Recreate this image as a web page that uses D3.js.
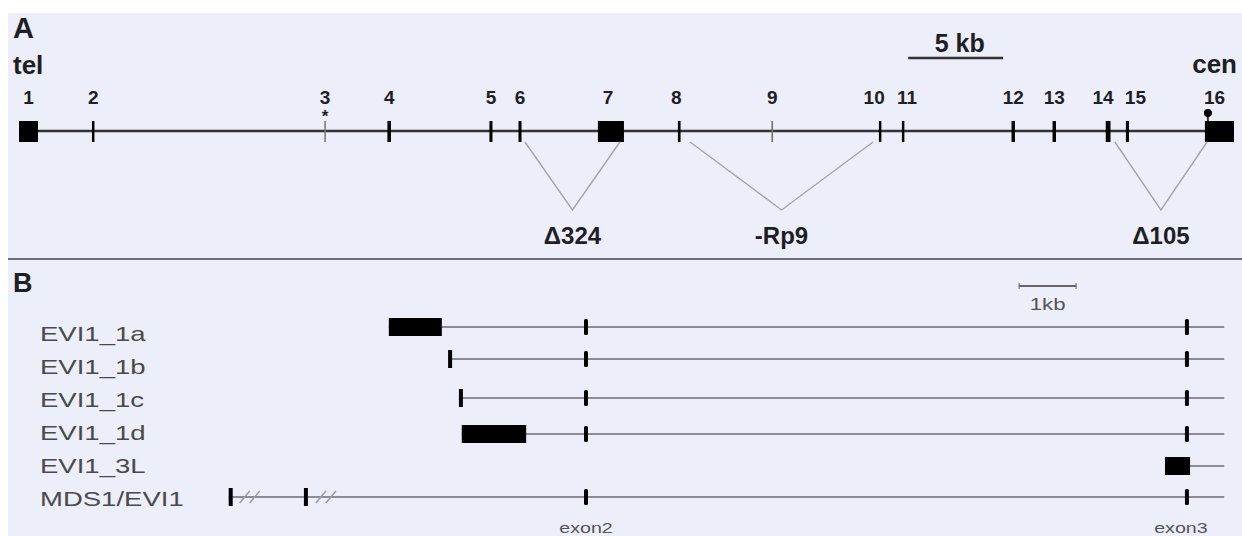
<!DOCTYPE html>
<html><head><meta charset="utf-8">
<script src="https://cdn.jsdelivr.net/npm/d3@7"></script>
<style>html,body{margin:0;padding:0;background:#fff;}svg{display:block;}</style>
</head><body>
<svg id="c" width="1242" height="536"></svg>
<script>
// ---------- Panel A data (kb from telomeric end of exon 1) ----------
const exonNames = ["1","2","3","4","5","6","7","8","9","10","11","12","13","14","15","16"];
const exonStart = [0, 3.84, 16.07, 19.39, 24.76, 26.29, 30.47, 34.68, 39.6, 45.26, 46.47, 52.24, 54.4, 57.2, 58.26, 62.42];
const exonEnd   = [1.0, 3.97, 16.15, 19.58, 24.92, 26.45, 31.84, 34.82, 39.69, 45.39, 46.6, 52.42, 54.58, 57.45, 58.42, 63.95];
const locusEnd = 63.95;
const deletionNames = ["\u0394324", "-Rp9", "\u0394105"];
const deletionStart = [26.63, 35.32, 57.68];
const deletionEnd   = [31.63, 44.95, 62.53];
const scaleBarA = 5; // kb

// ---------- Panel B data (kb relative to exon 2) ----------
const transcripts = ["EVI1_1a","EVI1_1b","EVI1_1c","EVI1_1d","EVI1_3L","MDS1/EVI1"];
const firstExonStart = [-3.46, -2.42, -2.23, -2.18, 10.16, -6.27];
const firstExonEnd   = [-2.53, -2.35, -2.17, -1.05, 10.60, -6.20];
const hasExon2 = [true, true, true, true, false, true];
const hasExon3 = [true, true, true, true, false, true];
const mdsExon2 = [-4.95, -4.88];
const exon2 = [-0.035, 0.035];
const exon3 = [10.51, 10.58];
const transcriptEnd = 11.2;
const scaleBarB = 1; // kb
const exonLabels = ["exon2", "exon3"];

const svg = d3.select("#c");
const font = "'Liberation Sans', Arial, sans-serif";
const dark = "#1e1e24";

// background
svg.append("rect").attr("x", 8).attr("y", 13).attr("width", 1234).attr("height", 523).attr("fill", "#eceefa");

// ================= Panel A =================
const xA = d3.scaleLinear().domain([0, locusEnd]).range([19, 1234]);
const yA = 131;
const gA = svg.append("g");
gA.append("text").attr("x", 13).attr("y", 38).text("A")
  .attr("font-family", font).attr("font-weight", "bold").attr("font-size", 29).attr("fill", dark);
gA.append("text").attr("x", 13).attr("y", 74).text("tel")
  .attr("font-family", font).attr("font-weight", "bold").attr("font-size", 26).attr("fill", dark);
gA.append("text").attr("x", 1237).attr("y", 73).attr("text-anchor", "end").text("cen")
  .attr("font-family", font).attr("font-weight", "bold").attr("font-size", 26).attr("fill", dark);

// scale bar
const sb0 = 46.8;
gA.append("line").attr("x1", xA(sb0)).attr("x2", xA(sb0 + scaleBarA)).attr("y1", 58).attr("y2", 58)
  .attr("stroke", "#333").attr("stroke-width", 2.5);
gA.append("text").attr("x", (xA(sb0) + xA(sb0 + scaleBarA)) / 2 + 4).attr("y", 52).attr("text-anchor", "middle")
  .text(scaleBarA + " kb").attr("font-family", font).attr("font-weight", "bold").attr("font-size", 25).attr("fill", dark);

// main line
gA.append("line").attr("x1", xA(0)).attr("x2", xA(locusEnd)).attr("y1", yA).attr("y2", yA)
  .attr("stroke", "#333").attr("stroke-width", 2.5);

const exA = exonNames.map((n, i) => ({ n, s: exonStart[i], e: exonEnd[i] }));
const light = new Set(["3", "9"]);
// small label nudges for legibility (as in the original figure)
const nudge = { "7": -3, "8": -3, "10": -6, "11": 4, "14": -5, "15": 8, "16": -5 };
gA.selectAll("rect.ex").data(exA).enter().append("rect")
  .attr("x", d => xA(d.s)).attr("width", d => Math.max(1.5, xA(d.e) - xA(d.s)))
  .attr("y", 121).attr("height", 21)
  .attr("fill", d => light.has(d.n) ? "#777" : "#000");
gA.selectAll("text.num").data(exA).enter().append("text")
  .attr("x", d => xA((d.s + d.e) / 2) + (nudge[d.n] || 0)).attr("y", 104).attr("text-anchor", "middle")
  .text(d => d.n).attr("font-family", font).attr("font-weight", "bold").attr("font-size", 19).attr("fill", dark);

// asterisk on exon 3, dot on exon 16
const e3 = exA[2], e16 = exA[15];
gA.append("text").attr("x", xA((e3.s + e3.e) / 2)).attr("y", 122).attr("text-anchor", "middle").text("*")
  .attr("font-family", font).attr("font-weight", "bold").attr("font-size", 17).attr("fill", dark);
gA.append("line").attr("x1", xA(e16.s) + 3).attr("x2", xA(e16.s) + 3).attr("y1", 113).attr("y2", 121)
  .attr("stroke", "#000").attr("stroke-width", 1.5);
gA.append("circle").attr("cx", xA(e16.s) + 3).attr("cy", 113).attr("r", 4).attr("fill", "#000");

// deletions
deletionNames.forEach((name, i) => {
  const x1 = xA(deletionStart[i]), x2 = xA(deletionEnd[i]);
  const xm = (x1 + x2) / 2;
  gA.append("polyline").attr("points", `${x1},142 ${xm},210 ${x2},142`)
    .attr("fill", "none").attr("stroke", "#a4a4ae").attr("stroke-width", 1.4);
  gA.append("text").attr("x", xm).attr("y", 244).attr("text-anchor", "middle").text(name)
    .attr("font-family", font).attr("font-weight", "bold").attr("font-size", 24).attr("fill", dark);
});

// separator
svg.append("line").attr("x1", 8).attr("x2", 1242).attr("y1", 259).attr("y2", 259)
  .attr("stroke", "#6e6e78").attr("stroke-width", 2);

// ================= Panel B =================
const xB = d3.scaleLinear().domain([0, 10.52]).range([586, 1185.5]);
const yB = d3.scaleOrdinal().domain(transcripts).range([327, 359, 398, 434, 466, 497]);
const yLab = d3.scalePoint().domain(transcripts).range([341, 506]);
const stretch = 1.31;
const gB = svg.append("g");
gB.append("text").attr("x", 13).attr("y", 292).text("B")
  .attr("font-family", font).attr("font-weight", "bold").attr("font-size", 27).attr("fill", dark);

function stretchedText(x, y, txt, size, anchor, fill) {
  return gB.append("text").attr("transform", `translate(${x},${y}) scale(${stretch},1)`)
    .attr("text-anchor", anchor).text(txt)
    .attr("font-family", font).attr("font-size", size).attr("fill", fill);
}

// scale bar
const sbB = 7.6;
gB.append("line").attr("x1", xB(sbB)).attr("x2", xB(sbB + scaleBarB)).attr("y1", 286).attr("y2", 286)
  .attr("stroke", "#666").attr("stroke-width", 2);
gB.append("line").attr("x1", xB(sbB)).attr("x2", xB(sbB)).attr("y1", 283).attr("y2", 289).attr("stroke", "#666").attr("stroke-width", 1);
gB.append("line").attr("x1", xB(sbB + scaleBarB)).attr("x2", xB(sbB + scaleBarB)).attr("y1", 283).attr("y2", 289).attr("stroke", "#666").attr("stroke-width", 1);
stretchedText((xB(sbB) + xB(sbB + scaleBarB)) / 2, 310, scaleBarB + "kb", 17, "middle", "#555");

transcripts.forEach((t, i) => {
  const y = yB(t);
  stretchedText(40, yLab(t), t, 21, "start", "#4a4a4a");
  // intron line
  gB.append("line").attr("x1", xB(firstExonStart[i])).attr("x2", xB(transcriptEnd)).attr("y1", y).attr("y2", y)
    .attr("stroke", "#8c8c96").attr("stroke-width", 2);
  gB.append("rect").attr("x", xB(firstExonStart[i])).attr("width", Math.max(4, xB(firstExonEnd[i]) - xB(firstExonStart[i])))
    .attr("y", y - 9).attr("height", 18).attr("fill", "#000");
  if (hasExon2[i]) {
    gB.append("rect").attr("x", xB(exon2[0])).attr("width", xB(exon2[1]) - xB(exon2[0])).attr("y", y - 8).attr("height", 16)
      .attr("rx", 1.5).attr("fill", "#000");
  }
  if (hasExon3[i]) {
    gB.append("rect").attr("x", xB(exon3[0])).attr("width", xB(exon3[1]) - xB(exon3[0])).attr("y", y - 8).attr("height", 16)
      .attr("rx", 1.5).attr("fill", "#000");
  }
  if (t === "MDS1/EVI1") {
    gB.append("rect").attr("x", xB(mdsExon2[0])).attr("width", xB(mdsExon2[1]) - xB(mdsExon2[0])).attr("y", y - 9).attr("height", 18).attr("fill", "#000");
    // break marks
    [xB(firstExonEnd[i]) + 12, xB(firstExonEnd[i]) + 22, xB(mdsExon2[1]) + 13, xB(mdsExon2[1]) + 23].forEach(bx => {
      gB.append("line").attr("x1", bx - 5).attr("x2", bx + 5).attr("y1", y + 6).attr("y2", y - 6)
        .attr("stroke", "#9a9aa4").attr("stroke-width", 1.5);
    });
  }
});
// exon labels
[exon2, exon3].forEach((e, i) => {
  stretchedText(xB((e[0] + e[1]) / 2) - (i === 1 ? 6 : 0), 533, exonLabels[i], 15, "middle", "#555");
});
</script>
</body></html>
